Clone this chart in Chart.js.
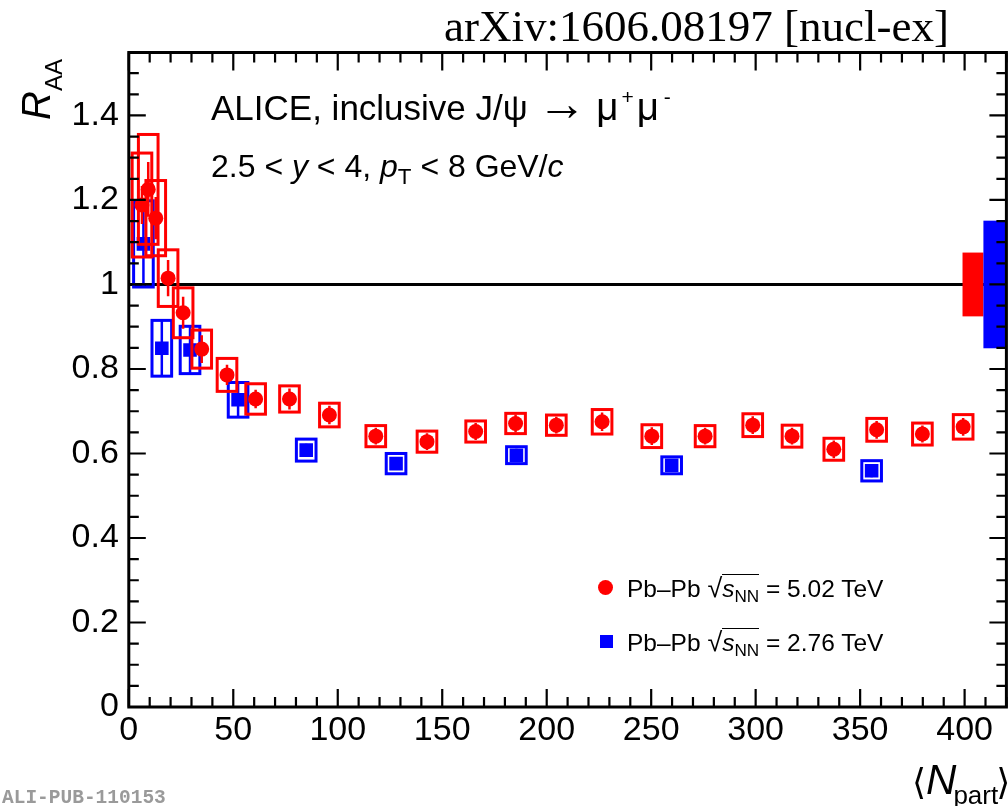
<!DOCTYPE html>
<html>
<head>
<meta charset="utf-8">
<title>J/psi R_AA vs Npart</title>
<script src="https://cdn.jsdelivr.net/npm/chart.js@4.4.1/dist/chart.umd.min.js"></script>
<style>
  html, body { margin: 0; padding: 0; background: #fff; overflow: hidden; width: 1008px; height: 806px; }
  #wrap { position: relative; width: 1008px; height: 806px; overflow: hidden; }
  #c { position: absolute; left: 0; top: 0; }
  .t { position: absolute; white-space: nowrap; color: #000; line-height: 1;
       font-family: "Liberation Sans", Arial, Helvetica, sans-serif; }
  .sub { font-size: 0.7em; vertical-align: -0.32em; }
  .sup { font-size: 0.6em; vertical-align: 0.75em; }
  .mk { position: absolute; }
</style>
</head>
<body>
<div id="wrap">
  <canvas id="c" width="1016" height="806"></canvas>

  <div class="t" id="arxiv" style="font-family:'Liberation Serif','Times New Roman',serif;font-size:45px;">arXiv:1606.08197 [nucl-ex]</div>
  <div class="t" id="title1" style="font-size:35px;">ALICE, inclusive J/ψ <span style="font-size:1.4em;">→</span> <span style="font-size:1.1em;">μ</span><span class="sup" style="margin-left:3px;">+</span><span style="font-size:1.1em;margin-left:3px;">μ</span><span class="sup" style="margin-left:5px;">-</span></div>
  <div class="t" id="title2" style="font-size:32px;">2.5 &lt; <i>y</i> &lt; 4, <i>p</i><span class="sub">T</span> &lt; 8 GeV/<i>c</i></div>

  <div class="mk" style="left:597.5px;top:579.5px;width:15px;height:15px;border-radius:50%;background:#ff0000;"></div>
  <div class="t" id="leg1" style="font-size:24.5px;">Pb–Pb <span style="font-size:1.1em">√</span><span style="border-top:1.5px solid #000;"><i>s</i><span class="sub">NN</span></span> = 5.02 TeV</div>
  <div class="mk" style="left:599.5px;top:635px;width:13px;height:13px;background:#0000ff;"></div>
  <div class="t" id="leg2" style="font-size:24.5px;">Pb–Pb <span style="font-size:1.1em">√</span><span style="border-top:1.5px solid #000;"><i>s</i><span class="sub">NN</span></span> = 2.76 TeV</div>

  <div class="t" id="ytitle" style="font-size:40px;"><i>R</i><span style="font-size:24px;vertical-align:-12px;">AA</span></div>
  <div class="t" id="xtitle" style="font-size:42px;"><span style="font-family:'DejaVu Sans',sans-serif;font-size:36px;">⟨</span><i>N</i><span style="font-size:26px;vertical-align:-10px;margin-left:-3px;">part</span><span style="font-family:'DejaVu Sans',sans-serif;font-size:36px;margin-left:-2px;">⟩</span></div>
  <div class="t" id="alipub" style="font-family:'Liberation Mono','Courier New',monospace;font-weight:bold;font-size:19.5px;color:#9a9a9a;">ALI-PUB-110153</div>
</div>

<script>
// Pb-Pb at sqrt(sNN) = 5.02 TeV
const nPart502 = [6.3, 9.3, 12.9, 18.8, 26.0, 34.9, 47.0, 60.7, 76.9, 96.0, 118.2, 142.7,
                  166.0, 185.1, 204.6, 226.5, 250.3, 275.8, 298.6, 317.4, 337.4, 357.9, 379.8, 399.3];
const raa502   = [1.188, 1.225, 1.157, 1.015, 0.933, 0.847, 0.786, 0.729, 0.729, 0.691, 0.641, 0.628,
                  0.652, 0.671, 0.667, 0.675, 0.641, 0.641, 0.667, 0.641, 0.610, 0.656, 0.646, 0.663];
const stat502  = [0.045, 0.065, 0.050, 0.043, 0.038, 0.033, 0.024, 0.022, 0.025, 0.022, 0.020, 0.020,
                  0.020, 0.021, 0.020, 0.022, 0.021, 0.020, 0.021, 0.020, 0.021, 0.021, 0.020, 0.021];
const sys502   = [0.123, 0.130, 0.089, 0.067, 0.059, 0.045, 0.039, 0.036, 0.031, 0.028, 0.025, 0.025,
                  0.025, 0.024, 0.024, 0.029, 0.027, 0.025, 0.027, 0.026, 0.026, 0.027, 0.026, 0.029];

// Pb-Pb at sqrt(sNN) = 2.76 TeV
const nPart276 = [7.0, 15.8, 29.3, 52.3, 84.9, 127.9, 185.5, 259.8, 355.5];
const raa276   = [1.096, 0.849, 0.845, 0.727, 0.608, 0.576, 0.596, 0.572, 0.559];
const stat276  = [0.100, 0.065, 0.055, 0.040, 0.015, 0.015, 0.015, 0.015, 0.015];
const sys276   = [0.102, 0.066, 0.056, 0.041, 0.026, 0.024, 0.020, 0.020, 0.024];

// global (correlated) uncertainties around unity
const globalUnc502 = 0.0755;
const globalUnc276 = 0.151;

// axes
const xTicks = [0, 50, 100, 150, 200, 250, 300, 350, 400];
const xTickLabels = ['0', '50', '100', '150', '200', '250', '300', '350', '400'];
const yTicks = [0, 0.2, 0.4, 0.6, 0.8, 1.0, 1.2, 1.4];
const yTickLabels = ['0', '0.2', '0.4', '0.6', '0.8', '1', '1.2', '1.4'];
const xRange = [0, 420];
const yRange = [0, 1.549];
const xMinorStep = 10;
const yMinorStep = 0.05;
const unityLine = [{ x: 0, y: 1 }, { x: 420, y: 1 }];

// ---- styling / layout ----
const RED = '#ff0000', BLUE = '#0000ff';
const FONT = '"Liberation Sans", Arial, Helvetica, sans-serif';
const boxHalfWidth = 4.7;          // systematic box half width in Npart units
const area = { left: 128.8, top: 52.5, right: 1009.5, bottom: 707 };
const canvasW = 1016, canvasH = 806;

function toPoints(xs, ys) { return xs.map((x, i) => ({ x, y: ys[i] })); }

// systematic boxes and statistical bars, drawn just below each series' markers
const errorPlugin = {
  id: 'errorBoxes',
  beforeDatasetDraw(chart, args) {
    const ds = chart.data.datasets[args.index];
    if (!ds.sys) return;
    const { ctx, chartArea: ca, scales: { x, y } } = chart;
    ctx.save();
    ctx.beginPath();
    ctx.rect(ca.left, ca.top, ca.right - ca.left, ca.bottom - ca.top);
    ctx.clip();
    ctx.strokeStyle = ds.backgroundColor;
    ds.data.forEach((p, i) => {
      const x0 = x.getPixelForValue(p.x - boxHalfWidth);
      const x1 = x.getPixelForValue(p.x + boxHalfWidth);
      const y0 = y.getPixelForValue(p.y + ds.sys[i]);
      const y1 = y.getPixelForValue(p.y - ds.sys[i]);
      ctx.lineWidth = 3;
      ctx.strokeRect(x0, y0, x1 - x0, y1 - y0);
      const xc = x.getPixelForValue(p.x);
      ctx.lineWidth = 2.5;
      ctx.beginPath();
      ctx.moveTo(xc, y.getPixelForValue(p.y + ds.stat[i]));
      ctx.lineTo(xc, y.getPixelForValue(p.y - ds.stat[i]));
      ctx.stroke();
    });
    ctx.restore();
  }
};

// global uncertainty boxes at unity plus the frame with inward ticks
const framePlugin = {
  id: 'frame',
  afterDatasetsDraw(chart) {
    const { ctx, chartArea: ca, scales: { x, y } } = chart;
    ctx.save();
    ctx.beginPath();
    ctx.rect(ca.left, ca.top, ca.right - ca.left, ca.bottom - ca.top);
    ctx.clip();
    const xa = x.getPixelForValue(399), xb = x.getPixelForValue(409), xe = x.getPixelForValue(420);
    ctx.fillStyle = RED;
    ctx.fillRect(xa, y.getPixelForValue(1 + globalUnc502), xb - xa,
                 y.getPixelForValue(1 - globalUnc502) - y.getPixelForValue(1 + globalUnc502));
    ctx.fillStyle = BLUE;
    ctx.fillRect(xb, y.getPixelForValue(1 + globalUnc276), xe - xb,
                 y.getPixelForValue(1 - globalUnc276) - y.getPixelForValue(1 + globalUnc276));
    ctx.restore();
  },
  afterDraw(chart) {
    const { ctx, chartArea: ca, scales: { x, y } } = chart;
    ctx.save();
    ctx.strokeStyle = '#000';
    ctx.lineWidth = 2.2;
    ctx.beginPath();
    const majX = 18, minX = 10, majY = 17, minY = 10;
    for (let v = xRange[0]; v <= xRange[1] + 1e-9; v += xMinorStep) {
      const px = x.getPixelForValue(v);
      const len = xTicks.includes(Math.round(v)) ? majX : minX;
      ctx.moveTo(px, ca.bottom); ctx.lineTo(px, ca.bottom - len);
      ctx.moveTo(px, ca.top); ctx.lineTo(px, ca.top + len);
    }
    for (let k = 0; k * yMinorStep <= yRange[1] + 1e-9; k++) {
      const v = k * yMinorStep;
      const py = y.getPixelForValue(v);
      const len = (k % 4 === 0) ? majY : minY;
      ctx.moveTo(ca.left, py); ctx.lineTo(ca.left + len, py);
      ctx.moveTo(ca.right, py); ctx.lineTo(ca.right - len, py);
    }
    ctx.stroke();
    ctx.lineWidth = 3;
    ctx.strokeRect(ca.left, ca.top, ca.right - ca.left, ca.bottom - ca.top);
    ctx.restore();
  }
};

const chart = new Chart(document.getElementById('c'), {
  type: 'scatter',
  data: {
    datasets: [
      {
        label: 'Pb-Pb 5.02 TeV',
        data: toPoints(nPart502, raa502),
        sys: sys502, stat: stat502,
        pointStyle: 'circle', pointRadius: 7.5, pointBorderWidth: 0,
        backgroundColor: RED, borderColor: RED
      },
      {
        label: 'Pb-Pb 2.76 TeV',
        data: toPoints(nPart276, raa276),
        sys: sys276, stat: stat276,
        pointStyle: 'rect', pointRadius: 9.6, pointBorderWidth: 0,
        backgroundColor: BLUE, borderColor: BLUE
      },
      {
        type: 'line',
        label: 'unity',
        data: unityLine,
        borderColor: '#000', borderWidth: 3, pointRadius: 0, fill: false
      }
    ]
  },
  options: {
    responsive: false,
    animation: false,
    events: [],
    layout: { padding: { left: 0, top: area.top, right: canvasW - area.right, bottom: 0 } },
    plugins: { legend: { display: false }, tooltip: { enabled: false } },
    scales: {
      x: {
        type: 'linear', min: xRange[0], max: xRange[1],
        grid: { display: false, drawTicks: false },
        border: { display: false },
        afterBuildTicks: s => { s.ticks = xTicks.map(v => ({ value: v })); },
        afterFit: s => { s.height = canvasH - area.bottom; },
        ticks: {
          autoSkip: false, maxRotation: 0, padding: 3, color: '#000',
          font: { family: FONT, size: 34 },
          callback: (v, i) => xTickLabels[i]
        }
      },
      y: {
        type: 'linear', min: yRange[0], max: yRange[1],
        grid: { display: false, drawTicks: false },
        border: { display: false },
        afterBuildTicks: s => { s.ticks = yTicks.map(v => ({ value: v })); },
        afterFit: s => { s.width = area.left; },
        ticks: {
          autoSkip: false, padding: 10, color: '#000',
          font: { family: FONT, size: 34 },
          callback: (v, i) => yTickLabels[i]
        }
      }
    }
  },
  plugins: [errorPlugin, framePlugin]
});

// text placement by baseline
function baselineOf(el) {
  const probe = document.createElement('span');
  probe.style.cssText = 'display:inline-block;width:0;height:0;vertical-align:baseline;';
  el.appendChild(probe);
  const off = probe.offsetTop;
  el.removeChild(probe);
  return off;
}
function place(id, x, baseY) {
  const el = document.getElementById(id);
  el.style.left = x + 'px';
  el.style.top = '0px';
  el.style.top = (baseY - baselineOf(el)) + 'px';
}
function placeRotated(id, baseX, startY) {
  const el = document.getElementById(id);
  el.style.left = baseX + 'px';
  el.style.top = '0px';
  const off = baselineOf(el);
  el.style.top = (startY - off) + 'px';
  el.style.transformOrigin = '0px ' + off + 'px';
  el.style.transform = 'rotate(-90deg)';
}
place('arxiv', 444, 41);
place('title1', 211, 120);
place('title2', 211, 177);
place('leg1', 627, 597);
place('leg2', 627, 651);
place('xtitle', 912, 794);
place('alipub', 2, 803);
placeRotated('ytitle', 50, 120);
</script>
</body>
</html>
